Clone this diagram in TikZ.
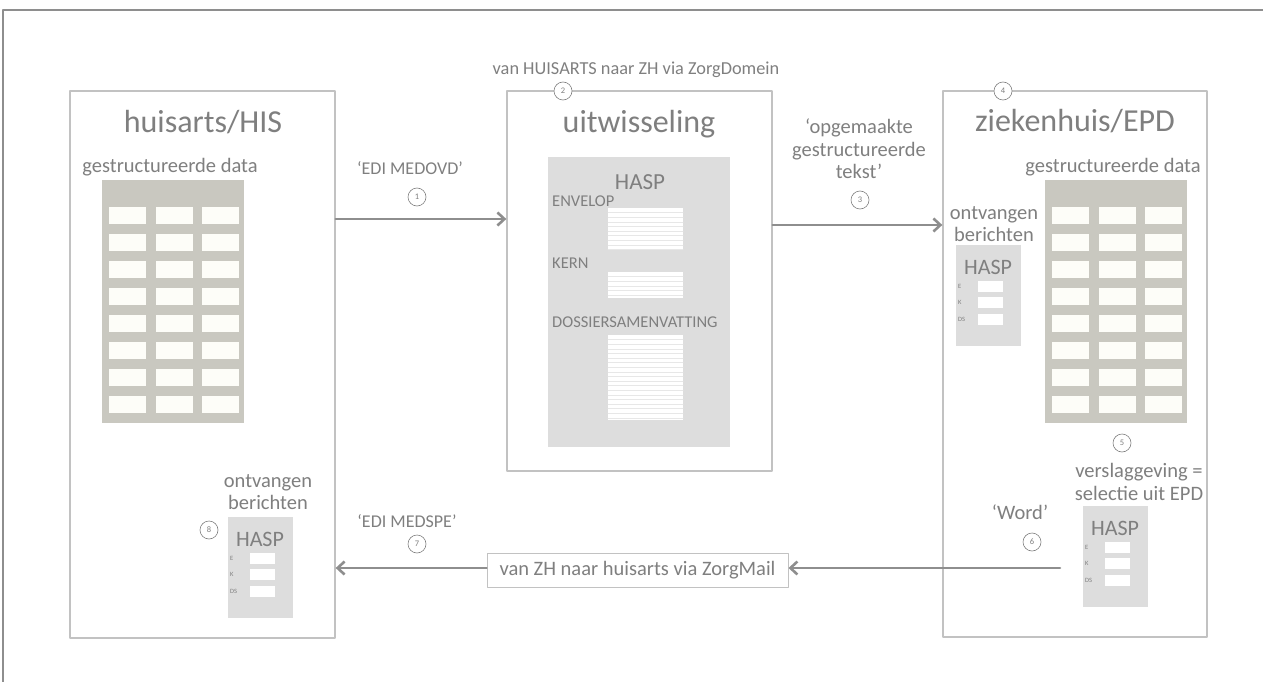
\documentclass[tikz,border=0pt]{standalone}
\usepackage{fontspec}
\setmainfont{Carlito}
\usetikzlibrary{arrows.meta,positioning}
\definecolor{txtgray}{HTML}{7F7F7F}
\definecolor{boxgray}{HTML}{C2C2C2}
\definecolor{arrgray}{HTML}{8E8E8E}
\definecolor{tabgray}{HTML}{C9C8C0}
\definecolor{cellwhite}{HTML}{FDFDF8}
\definecolor{panelgray}{HTML}{DDDDDD}
\tikzset{
  sysbox/.style={draw=boxgray, line width=1.3pt, fill=white, inner sep=0pt},
  systitle/.style={font=\fontsize{32}{34}\selectfont, text=txtgray},
  lbl/.style={font=\fontsize{20.5}{22.5}\selectfont, text=txtgray, align=center, inner sep=0pt},
  capslbl/.style={font=\fontsize{18}{20}\selectfont, text=txtgray, inner sep=0pt},
  part/.style={font=\fontsize{16.5}{18}\selectfont, text=txtgray, anchor=west, inner sep=0pt},
  numcirc/.style={circle, draw=txtgray, line width=0.6pt, fill=white, minimum size=18pt, inner sep=0pt, font=\fontsize{8.5}{9}\selectfont, text=txtgray},
  flow/.style={->, draw=arrgray, line width=2.6pt},
  tiny/.style={font=\fontsize{6.5}{7}\selectfont, text=txtgray, anchor=west, inner sep=0pt},
}
% tabel met gestructureerde data, linksboven in (#1,#2)
\newcommand\datatable[2]{%
  \fill[tabgray] (#1,#2) rectangle ++(142,243);
  \foreach \r in {0,...,7}
    \foreach \c in {7,54,100}
      \fill[cellwhite] (#1+\c,#2+27+27*\r) rectangle ++(37,17);
}
% klein HASP-bericht, linksboven in (#1,#2)
\newcommand\hasppanel[3]{%
  \fill[panelgray] (#1,#2) rectangle ++(65,101);
  \node[font=\fontsize{22}{24}\selectfont, text=txtgray] (#3-hasp) at (#1+32,#2+22) {HASP};
  \foreach \yy/\tt/\nn in {41/E/e,57/K/k,74/DS/ds}{
    \node[tiny] (#3-\nn) at (#1+2,#2+\yy) {\tt};
    \fill[white] (#1+22,#2+\yy-5) rectangle ++(25,11);
  }
}
% wit blok met regels
\newcommand\txtblock[4]{%
  \fill[white] (#1,#2) rectangle (#3,#4);
  \foreach \k in {1,...,30}{
    \pgfmathsetmacro\yy{#2+4.6*\k}
    \ifdim\yy pt<#4pt \draw[panelgray!70, line width=0.5pt] (#1,\yy) -- (#3,\yy);\fi
  }
}
\begin{document}
\begin{tikzpicture}[x=1pt, y=-1pt, >={Straight Barb[length=7pt,width=13pt]}, line join=round, line cap=round]
\useasboundingbox (0,0) rectangle (1263,682);
% kader
\draw[arrgray, line width=1.8pt] (3,682) -- (3,10) -- (1263,10);

% de drie systemen
\node[sysbox, minimum width=265pt, minimum height=547pt] (his) at (202.5,364.5) {};
\node[sysbox, minimum width=265pt, minimum height=380pt] (uit) at (639.5,281) {};
\node[sysbox, minimum width=264pt, minimum height=546pt] (epd) at (1075,364) {};

\node[systitle] (histitle) at (203,122) {huisarts/HIS};
\node[systitle] (uittitle) at (639,124) {uitwisseling};
\node[systitle] (epdtitle) at (1075,121) {ziekenhuis/EPD};

% huisarts
\node[lbl] (hisdata) at (170,167) {gestructureerde data};
\datatable{102}{180}
\node[lbl] (hisontv) at (268,492) {ontvangen\\berichten};
\hasppanel{228}{517}{hisin}
\node[numcirc] (n8) at (209,530) {8};

% uitwisseling
\node[capslbl, font=\fontsize{18.3}{20}\selectfont] (zorgdomein) at (636,70) {van HUISARTS naar ZH via ZorgDomein};
\node[numcirc] (n2) at (563,91) {2};
\fill[panelgray] (548,157) rectangle (730,447);
\node[font=\fontsize{23}{25}\selectfont, text=txtgray] (hasp) at (640,182) {HASP};
\node[part] (envelop) at (552,201) {ENVELOP};
\txtblock{608}{208}{683}{250}
\node[part] (kern) at (552,263) {KERN};
\txtblock{608}{272}{683}{298}
\node[part] (dossier) at (552,322) {DOSSIERSAMENVATTING};
\txtblock{608}{335}{683}{420}

% ziekenhuis
\node[numcirc] (n4) at (1003,91) {4};
\node[lbl] (epddata) at (1113,167) {gestructureerde data};
\datatable{1045}{180}
\node[lbl] (epdontv) at (994,224) {ontvangen\\berichten};
\hasppanel{956}{245}{epdin}
\node[numcirc] (n5) at (1122,443) {5};
\node[lbl] (verslag) at (1139,482) {verslaggeving =\\selectie uit EPD};
\hasppanel{1083}{506}{epdout}
\node[lbl] (word) at (1020,512) {‘Word’};
\node[numcirc] (n6) at (1032,542) {6};

% heen
\coordinate (a1) at (0,219);
\draw[flow] (his.east |- a1) -- (uit.west |- a1);
\node[capslbl] (medovd) at (410,168) {‘EDI MEDOVD’};
\node[numcirc] (n1) at (417,197) {1};
\coordinate (a3) at (0,225);
\draw[flow] (uit.east |- a3) -- (epd.west |- a3);
\node[lbl] (opgemaakt) at (859,149) {‘opgemaakte\\gestructureerde\\tekst’};
\node[numcirc] (n3) at (860,200) {3};

% terug
\node[draw=boxgray, line width=1pt, fill=white, font=\fontsize{20.5}{22}\selectfont, text=txtgray, minimum width=301pt, minimum height=34pt, inner sep=0pt] (zorgmail) at (637.5,570) {van ZH naar huisarts via ZorgMail};
\coordinate (wordout) at (1060,568);
\draw[flow] (wordout) -- (zorgmail.east |- wordout);
\draw[flow] (zorgmail.west |- wordout) -- (his.east |- wordout);
\node[capslbl] (medspe) at (407,521) {‘EDI MEDSPE’};
\node[numcirc] (n7) at (417,544) {7};
\end{tikzpicture}
\end{document}
